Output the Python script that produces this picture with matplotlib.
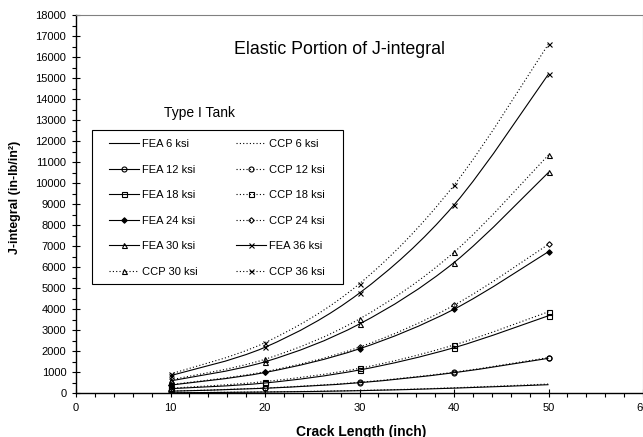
import matplotlib
matplotlib.use("Agg")
import matplotlib.pyplot as plt
from matplotlib.lines import Line2D
from matplotlib.path import Path
from matplotlib.patches import PathPatch, Rectangle
from matplotlib.ticker import MultipleLocator

plt.rcParams["font.family"] = ["Liberation Sans", "DejaVu Sans"]

crack_length = [10, 20, 30, 40, 50]

fea_6 = [25, 60, 125, 245, 410]
ccp_6 = [27, 66, 135, 262, 440]
fea_12 = [100, 240, 505, 980, 1665]
ccp_12 = [105, 252, 525, 1005, 1700]
fea_18 = [220, 490, 1110, 2170, 3690]
ccp_18 = [240, 560, 1190, 2300, 3880]
fea_24 = [390, 990, 2120, 4000, 6740]
ccp_24 = [410, 1030, 2200, 4190, 7090]
fea_30 = [590, 1500, 3300, 6220, 10510]
ccp_30 = [640, 1620, 3540, 6710, 11340]
fea_36 = [840, 2190, 4770, 8960, 15190]
ccp_36 = [920, 2410, 5215, 9900, 16620]

# (label, values, linestyle, marker, marker face)
series = [
    ("FEA 6 ksi", fea_6, "-", None, "none"),
    ("CCP 6 ksi", ccp_6, ":", None, "none"),
    ("FEA 12 ksi", fea_12, "-", "o", "none"),
    ("CCP 12 ksi", ccp_12, ":", "o", "none"),
    ("FEA 18 ksi", fea_18, "-", "s", "none"),
    ("CCP 18 ksi", ccp_18, ":", "s", "none"),
    ("FEA 24 ksi", fea_24, "-", "D", "black"),
    ("CCP 24 ksi", ccp_24, ":", "D", "none"),
    ("FEA 30 ksi", fea_30, "-", "^", "none"),
    ("FEA 36 ksi", fea_36, "-", "x", "none"),
    ("CCP 30 ksi", ccp_30, ":", "^", "none"),
    ("CCP 36 ksi", ccp_36, ":", "x", "none"),
]

DOT = (0, (1, 2))


def smooth_path(xs, ys):
    # bezier through the points, like a spreadsheet "smoothed line"
    pts = list(zip(xs, ys))
    n = len(pts)
    verts = [pts[0]]
    codes = [Path.MOVETO]
    for i in range(n - 1):
        p0 = pts[max(i - 1, 0)]
        p1 = pts[i]
        p2 = pts[i + 1]
        p3 = pts[min(i + 2, n - 1)]
        c1 = (p1[0] + (p2[0] - p0[0]) / 6, p1[1] + (p2[1] - p0[1]) / 6)
        c2 = (p2[0] - (p3[0] - p1[0]) / 6, p2[1] - (p3[1] - p1[1]) / 6)
        verts += [c1, c2, p2]
        codes += [Path.CURVE4] * 3
    return Path(verts, codes)


def marker_size(mk):
    return 2.8 if mk == "D" else 3.6


W, H = 643, 437
fig = plt.figure(figsize=(W / 100, H / 100), dpi=100)
ax = fig.add_axes([76 / W, 1 - 393.3 / H, 567 / W, (393.3 - 15) / H])

handles = {}
for label, vals, ls, mk, mfc in series:
    style = "-" if ls == "-" else DOT
    ax.add_patch(PathPatch(smooth_path(crack_length, vals), fill=False,
                           edgecolor="black", linewidth=0.8, linestyle=style))
    if mk:
        ax.plot(crack_length, vals, linestyle="none", marker=mk, markersize=marker_size(mk),
                markerfacecolor=mfc, markeredgecolor="black", markeredgewidth=0.8)
    handles[label] = Line2D([], [], color="black", linewidth=0.8, linestyle=style,
                            marker=mk, markersize=marker_size(mk) if mk else 0,
                            markerfacecolor=mfc, markeredgecolor="black", markeredgewidth=0.8)

ax.set_xlim(0, 60)
ax.set_ylim(0, 18000)
ax.xaxis.set_major_locator(MultipleLocator(10))
ax.xaxis.set_minor_locator(MultipleLocator(2))
ax.yaxis.set_major_locator(MultipleLocator(1000))
ax.yaxis.set_minor_locator(MultipleLocator(500))
ax.tick_params(which="major", direction="inout", length=6, width=0.8, labelsize=8, pad=4)
ax.tick_params(which="minor", direction="out", length=3, width=0.8)

for side in ["top", "right"]:
    ax.spines[side].set_color("#808080")
for side in ["left", "bottom"]:
    ax.spines[side].set_linewidth(1.0)

ax.set_xlabel("Crack Length (inch)", fontsize=10, fontweight="bold")
ax.xaxis.set_label_coords(0.503, -0.085)
ax.set_ylabel("J-integral (in-lb/in²)", fontsize=9, fontweight="bold")
ax.yaxis.set_label_coords(-0.097, 0.517)

fig.text(339 / W, 1 - 50 / H, "Elastic Portion of J-integral", fontsize=12.8,
         ha="center", va="center")
fig.text(200 / W, 1 - 113 / H, "Type I Tank", fontsize=10, ha="center", va="center")

# legend box drawn separately so the padding can match the original
ax.add_patch(Rectangle((92 / W, 1 - 284 / H), (343 - 92) / W, (284 - 130) / H,
                       transform=fig.transFigure, facecolor="white", clip_on=False,
                       edgecolor="black", linewidth=0.8, zorder=4))

col1 = ["FEA 6 ksi", "FEA 12 ksi", "FEA 18 ksi", "FEA 24 ksi", "FEA 30 ksi", "CCP 30 ksi"]
col2 = ["CCP 6 ksi", "CCP 12 ksi", "CCP 18 ksi", "CCP 24 ksi", "FEA 36 ksi", "CCP 36 ksi"]
order = col1 + col2
leg = ax.legend([handles[k] for k in order], order, ncol=2, loc="upper left",
                bbox_to_anchor=(109 / W, 1 - 139 / H), bbox_transform=fig.transFigure,
                borderaxespad=0, fontsize=8, frameon=False, labelspacing=1.4,
                handlelength=2.7, handletextpad=0.3, columnspacing=3.4, borderpad=0)
leg.set_zorder(5)

fig.savefig("out.png", dpi=100)
